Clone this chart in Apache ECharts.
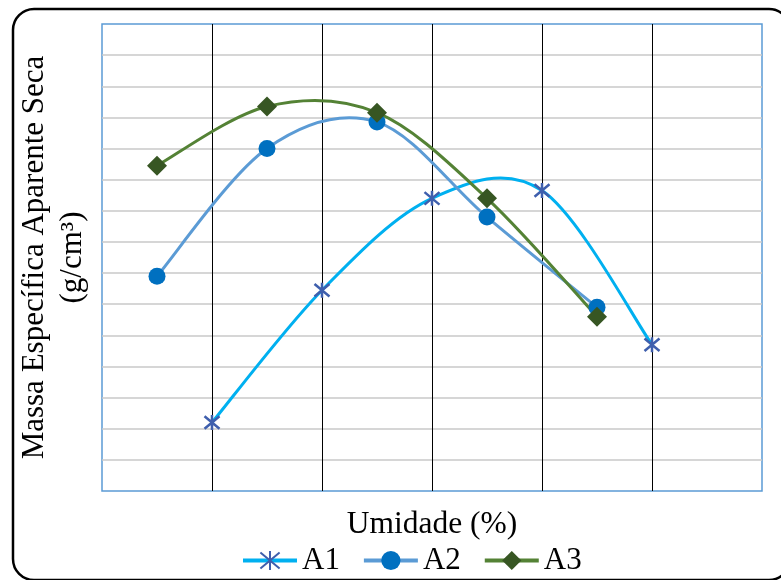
<!DOCTYPE html>
<html>
<head>
<meta charset="utf-8">
<script src="https://cdn.jsdelivr.net/npm/echarts@6/dist/echarts.min.js"></script>
<style>
html,body{margin:0;padding:0;background:#fff;}
#chart{width:781px;height:580px;}
</style>
</head>
<body>
<div id="chart"></div>
<script>
// Umidade (%) values
const xA1 = [10, 12, 14, 16, 18];
const xA2 = [9, 11, 13, 15, 17];
const xA3 = [9, 11, 13, 15, 17];
// Massa Específica Aparente Seca (g/cm³)
const yA1 = [1.544, 1.629, 1.688, 1.693, 1.594];
const yA2 = [1.638, 1.720, 1.737, 1.676, 1.618];
const yA3 = [1.709, 1.747, 1.743, 1.688, 1.612];
const seriesNames = ['A1', 'A2', 'A3'];
const lineColors = ['#00b0f0', '#5b9bd5', '#548235'];
const xTitle = 'Umidade (%)';
const yTitle = 'Massa Específica Aparente Seca\n(g/cm³)';

const pair = (xs, ys) => xs.map((x, i) => [x, ys[i]]);
const FONT = "'Liberation Serif', 'Times New Roman', serif";
const starPath = 'path://M0,0L10,10M10,0L0,10M5,-1L5,11';

// smooth (Catmull-Rom style) curve through the data, drawn via the axis scales
function makeCurve(xs, ys, color) {
  return function (params, api) {
    const i = params.dataIndex;
    const n = xs.length;
    if (i >= n - 1) return {type: 'group', children: []};
    const P = k => {
      const j = Math.max(0, Math.min(n - 1, k));
      return api.coord([xs[j], ys[j]]);
    };
    const p0 = P(i - 1), p1 = P(i), p2 = P(i + 1), p3 = P(i + 2);
    const t = 1 / 6;
    return {
      type: 'bezierCurve',
      shape: {
        x1: p1[0], y1: p1[1], x2: p2[0], y2: p2[1],
        cpx1: p1[0] + (p2[0] - p0[0]) * t, cpy1: p1[1] + (p2[1] - p0[1]) * t,
        cpx2: p2[0] - (p3[0] - p1[0]) * t, cpy2: p2[1] - (p3[1] - p1[1]) * t
      },
      style: {stroke: color, lineWidth: 3, fill: null, lineCap: 'round'}
    };
  };
}

const chart = echarts.init(document.getElementById('chart'), null, {renderer: 'canvas'});
chart.setOption({
  animation: false,
  backgroundColor: '#fff',
  graphic: [{
    type: 'rect',
    shape: {x: 13, y: 9, width: 777, height: 571, r: 21},
    style: {fill: 'none', stroke: '#000', lineWidth: 2.5},
    silent: true, z: -10
  }],
  grid: {
    left: 102, top: 24, width: 660, height: 467,
    show: true, borderColor: '#5b9bd5', borderWidth: 1.5, backgroundColor: 'transparent'
  },
  legend: {
    left: 236, top: 540,
    itemWidth: 54, itemHeight: 24, itemGap: 22,
    textStyle: {fontFamily: FONT, fontSize: 31, color: '#000'},
    data: seriesNames.map((n, k) => ({
      name: n,
      lineStyle: {color: lineColors[k], width: 4, opacity: 1}
    }))
  },
  xAxis: {
    type: 'value', min: 8, max: 20, interval: 2,
    name: xTitle, nameLocation: 'middle', nameGap: 18,
    nameTextStyle: {fontFamily: FONT, fontSize: 31.5, color: '#000'},
    axisLine: {show: false}, axisTick: {show: false}, axisLabel: {show: false},
    splitLine: {show: true, showMinLine: false, showMaxLine: false, lineStyle: {color: '#000', width: 1}}
  },
  yAxis: {
    type: 'value', min: 1.50, max: 1.80, interval: 0.02,
    name: yTitle, nameLocation: 'middle', nameGap: 10,
    nameTextStyle: {fontFamily: FONT, fontSize: 31, color: '#000', lineHeight: 38},
    axisLine: {show: false}, axisTick: {show: false}, axisLabel: {show: false},
    splitLine: {show: true, showMinLine: false, showMaxLine: false, lineStyle: {color: '#c8c8c8', width: 1.5}}
  },
  series: [
    {name: 'A1 curva', type: 'custom', data: pair(xA1, yA1), renderItem: makeCurve(xA1, yA1, lineColors[0]), silent: true, z: 2},
    {name: 'A2 curva', type: 'custom', data: pair(xA2, yA2), renderItem: makeCurve(xA2, yA2, lineColors[1]), silent: true, z: 2},
    {name: 'A3 curva', type: 'custom', data: pair(xA3, yA3), renderItem: makeCurve(xA3, yA3, lineColors[2]), silent: true, z: 2},
    {
      name: 'A1', type: 'line', data: pair(xA1, yA1), z: 3,
      symbol: starPath, symbolSize: 15,
      lineStyle: {color: lineColors[0], width: 3, opacity: 0},
      itemStyle: {color: '#3f5fad', borderColor: '#3f5fad', borderWidth: 2.5}
    },
    {
      name: 'A2', type: 'line', data: pair(xA2, yA2), z: 3,
      symbol: 'circle', symbolSize: 17,
      lineStyle: {color: lineColors[1], width: 3, opacity: 0},
      itemStyle: {color: '#0070c0', borderWidth: 0}
    },
    {
      name: 'A3', type: 'line', data: pair(xA3, yA3), z: 3,
      symbol: 'diamond', symbolSize: [20, 20],
      lineStyle: {color: lineColors[2], width: 3, opacity: 0},
      itemStyle: {color: '#375623', borderWidth: 0}
    }
  ]
});
</script>
</body>
</html>
